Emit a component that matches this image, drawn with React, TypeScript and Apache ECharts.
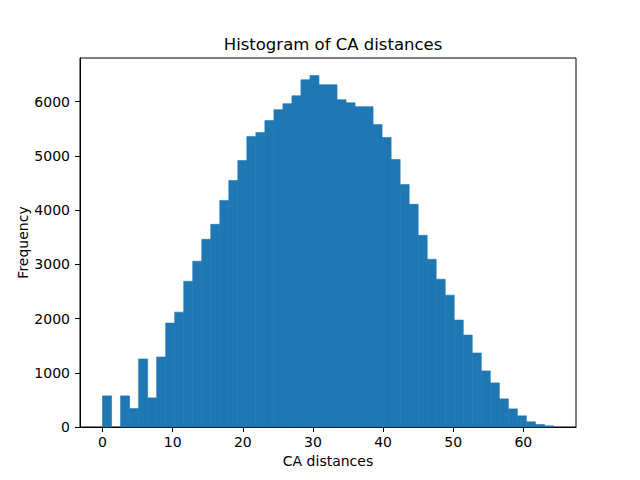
import React, { useEffect, useRef } from "react";
import * as echarts from "echarts";

// Histogram of CA distances: 50 bins starting at 0
const binStart = 0;
const binWidth = 1.286;
const counts = [
  574, 0, 574, 340, 1254, 537, 1291, 1916, 2118, 2688,
  3056, 3460, 3737, 4178, 4546, 4913, 5355, 5428, 5650, 5851,
  5962, 6108, 6403, 6480, 6311, 6311, 6036, 5980, 5907, 5907,
  5576, 5337, 4932, 4472, 4105, 3534, 3093, 2725, 2431, 1972,
  1695, 1365, 1034, 813, 519, 334, 206, 96, 46, 22,
];
const xTicks = [0, 10, 20, 30, 40, 50, 60];
const yTicks = [0, 1000, 2000, 3000, 4000, 5000, 6000];

const title = "Histogram of CA distances";
const xLabel = "CA distances";
const yLabel = "Frequency";

export default function App() {
  const ref = useRef<HTMLDivElement>(null);
  useEffect(() => {
    if (!ref.current) return;
    const chart = echarts.init(ref.current, null, { renderer: "svg" });
    const data = counts.map((c, i) => [
      binStart + i * binWidth,
      binStart + (i + 1) * binWidth,
      c,
    ]);
    const dataMin = binStart;
    const dataMax = binStart + counts.length * binWidth;
    const span = dataMax - dataMin;
    const yMax = Math.max(...counts) * 1.05;
    const font = "DejaVu Sans";
    chart.setOption({
      animation: false,
      title: {
        text: title,
        left: 328,
        top: 31,
        textAlign: "center",
        textStyle: { fontFamily: font, fontSize: 16.5, fontWeight: "normal", color: "#000" },
      },
      grid: {
        left: 80,
        right: 64,
        top: 58,
        bottom: 53,
        show: true,
        borderColor: "#000",
        borderWidth: 1,
        backgroundColor: "transparent",
      },
      xAxis: {
        type: "value",
        min: dataMin - span * 0.05,
        max: dataMax + span * 0.05,
        name: xLabel,
        nameLocation: "middle",
        nameGap: 27,
        nameMoveOverlap: false,
        nameTextStyle: { fontFamily: font, fontSize: 14, color: "#000" },
        splitLine: { show: false },
        axisLine: { show: true, onZero: false, lineStyle: { color: "#000", width: 1 } },
        axisTick: { show: true, inside: false, length: 5, lineStyle: { color: "#000" }, customValues: xTicks },
        axisLabel: { fontFamily: font, fontSize: 14, color: "#000", margin: 8, customValues: xTicks },
      },
      yAxis: {
        type: "value",
        min: 0,
        max: yMax,
        name: yLabel,
        nameLocation: "middle",
        nameRotate: 90,
        nameGap: 50,
        nameMoveOverlap: false,
        nameTextStyle: { fontFamily: font, fontSize: 14, color: "#000" },
        splitLine: { show: false },
        axisLine: { show: true, onZero: false, lineStyle: { color: "#000", width: 1 } },
        axisTick: { show: true, inside: false, length: 5, lineStyle: { color: "#000" }, customValues: yTicks },
        axisLabel: {
          fontFamily: font,
          fontSize: 14,
          color: "#000",
          margin: 10,
          customValues: yTicks,
          formatter: (v: number) => String(Math.round(v)),
        },
      },
      series: [
        {
          type: "custom",
          data,
          encode: { x: [0, 1], y: 2 },
          renderItem: (params: any, api: any) => {
            const x0 = api.value(0);
            const x1 = api.value(1);
            const v = api.value(2);
            if (!v) return null;
            const p0 = api.coord([x0, v]);
            const p1 = api.coord([x1, 0]);
            return {
              type: "rect",
              shape: { x: p0[0], y: p0[1], width: p1[0] - p0[0], height: p1[1] - p0[1] },
              style: { fill: "#1f77b4", stroke: "#1f77b4", lineWidth: 0.6 },
            };
          },
        },
      ],
    });
    return () => chart.dispose();
  }, []);
  return (
    <div
      ref={ref}
      style={{ position: "fixed", left: 0, top: 0, width: 640, height: 480, background: "#fff" }}
    />
  );
}
